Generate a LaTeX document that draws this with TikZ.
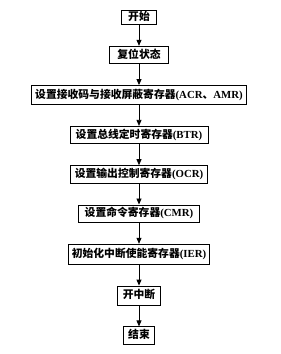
\documentclass[tikz,border=0pt]{standalone}
\usepackage{fontspec}
\setmainfont{Liberation Serif}
\newfontfamily\cjk{Noto Sans CJK SC}
\usetikzlibrary{arrows.meta,positioning}

\begin{document}
\begin{tikzpicture}[x=1pt,y=-1pt,node distance=20.8pt,>={Triangle[length=6pt,width=5pt]}]
      \tikzset{stepbox/.style={draw,line width=1pt,inner xsep=3.5pt,inner ysep=0pt,text height=8pt,text depth=2pt,minimum height=17.5pt,font=\fontsize{10.8}{12}\selectfont\bfseries}}
      \useasboundingbox (0,0) rectangle (281,354);
      \node[stepbox,minimum width=35pt,minimum height=14pt,anchor=north] (start) at (139,10) {\cjk 开始};
      \node[stepbox,minimum width=59pt,below=of start] (reset) {\cjk 复位状态};
      \node[stepbox,minimum height=19pt,below=of reset] (acr) {{\cjk 设置接收码与接收屏蔽寄存器}(ACR{\cjk 、}AMR)};
      \node[stepbox,minimum width=138pt,below=of acr] (btr) {{\cjk 设置总线定时寄存器}(BTR)};
      \node[stepbox,minimum width=137pt,below=of btr] (ocr) {{\cjk 设置输出控制寄存器}(OCR)};
      \node[stepbox,minimum width=121pt,below=of ocr] (cmr) {{\cjk 设置命令寄存器}(CMR)};
      \node[stepbox,minimum width=141pt,minimum height=20pt,below=of cmr] (ier) {{\cjk 初始化中断使能寄存器}(IER)};
      \node[stepbox,minimum width=43pt,minimum height=19pt,below=of ier] (irq) {\cjk 开中断};
      \node[stepbox,minimum width=31pt,minimum height=18pt,below=of irq] (stop) {\cjk 结束};
      \foreach \a/\b in {start/reset,reset/acr,acr/btr,btr/ocr,ocr/cmr,cmr/ier,ier/irq,irq/stop}
        \draw[->,line width=0.8pt] (\a) -- (\b);
    \end{tikzpicture}
\end{document}
